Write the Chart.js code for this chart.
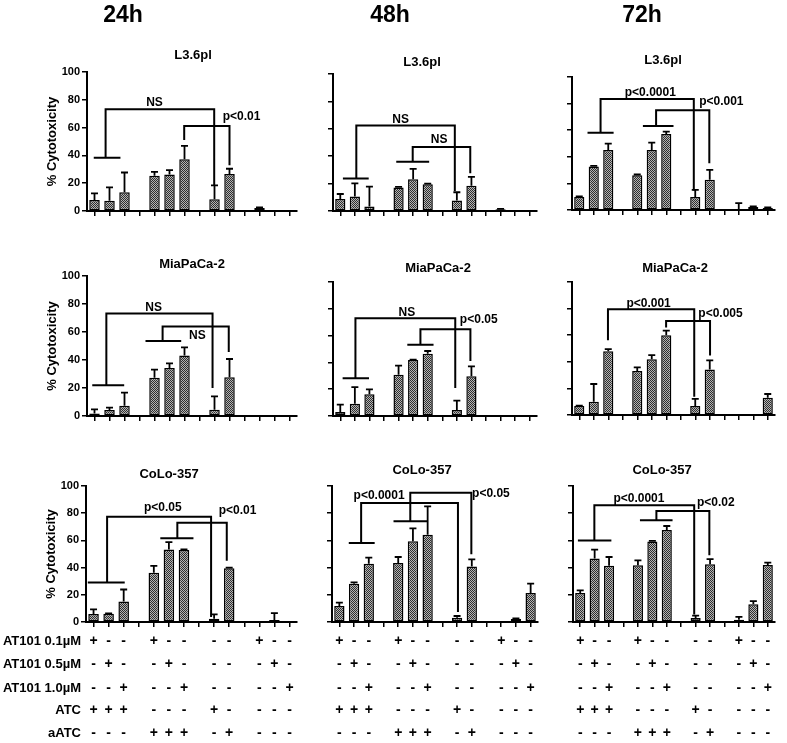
<!DOCTYPE html>
<html><head><meta charset="utf-8">
<script src="https://cdn.jsdelivr.net/npm/chart.js@4/dist/chart.umd.min.js"></script>
<style>
html,body{margin:0;padding:0;background:#fff;}
#wrap{position:relative;width:787px;height:743px;overflow:hidden;background:#fff;}
#wrap canvas{position:absolute;left:0;top:0;}
</style></head><body><div id="wrap"></div>
<script>
// ---------- data ----------
const timepoints = ['24h','48h','72h'];
const cellLines = ['L3.6pl','MiaPaCa-2','CoLo-357'];
const slots = ['0.1+ATC','0.5+ATC','1.0+ATC','g1','0.1+aATC','0.5+aATC','1.0+aATC','g2','ATC','aATC','g3','0.1','0.5','1.0'];
const yTicks = [0,20,40,60,80,100];
const rowLabels = ['AT101 0.1\u00b5M','AT101 0.5\u00b5M','AT101 1.0\u00b5M','ATC','aATC'];
const treatTable = [
  ['+','-','-',null,'+','-','-',null,'-','-',null,'+','-','-'],
  ['-','+','-',null,'-','+','-',null,'-','-',null,'-','+','-'],
  ['-','-','+',null,'-','-','+',null,'-','-',null,'-','-','+'],
  ['+','+','+',null,'-','-','-',null,'+','-',null,'-','-','-'],
  ['-','-','-',null,'+','+','+',null,'-','+',null,'-','-','-']
];

const L36_24_mean = [8, 7.4, 13.4, null, 25.4, 26.3, 37.3, null, 8.4, 26.6, null, 2.2, 0.3, 0.3];
const L36_24_sd   = [4.7, 9.6, 14.3, null, 2.8, 3.1, 9.6, null, 10, 3.8, null, 0.4, 0, 0];
const L36_48_mean = [8.8, 10.5, 3.2, null, 17.1, 23.2, 19.5, null, 7.6, 18.5, null, 1.2, 0.2, 0.2];
const L36_48_sd   = [3.6, 9.7, 14.6, null, 0.5, 7.5, 0.5, null, 6.1, 6.4, null, 0.3, 0, 0];
const L36_72_mean = [9.7, 32.7, 45.1, null, 26.2, 45.1, 57.1, null, 9.7, 22.7, null, 0.7, 2.2, 1.5];
const L36_72_sd   = [0.5, 0.5, 4.8, null, 0.5, 5.5, 1.8, null, 5.5, 7.5, null, 4.5, 0.5, 0.5];

const Mia_24_mean = [1.7, 4.3, 7.4, null, 27.4, 34.3, 43.3, null, 4.5, 27.6, null, 0.3, 0.3, 0.3];
const Mia_24_sd   = [3.1, 1.7, 9.3, null, 5.7, 3.3, 5.7, null, 9.5, 13.1, null, 0, 0, 0];
const Mia_48_mean = [3.0, 9.2, 16.2, null, 30.8, 41.8, 46.5, null, 4.5, 29.6, null, 0.3, 0.3, 0.3];
const Mia_48_sd   = [5.5, 12.4, 3.7, null, 6.8, 0.3, 2, null, 6.9, 7.5, null, 0, 0, 0];
const Mia_72_mean = [6.75, 10, 48, null, 33, 42, 60, null, 6.75, 34.3, null, 0.3, 0.3, 13];
const Mia_72_sd   = [0.3, 13.3, 1.5, null, 2.8, 3, 3.5, null, 5.3, 6.7, null, 0, 0, 2.8];

const Colo_24_mean = [5.9, 6.1, 15.1, null, 36.3, 53.4, 52.9, null, 2.4, 39.5, null, 0.3, 1.5, 0.3];
const Colo_24_sd   = [3.4, 0.3, 8.8, null, 4.9, 5.4, 0.5, null, 3.2, 0.5, null, 0, 5, 0];
const Colo_48_mean = [11.8, 28.2, 42.9, null, 43.4, 59.3, 64.2, null, 3.2, 40.9, null, 0.3, 2.2, 21.3];
const Colo_48_sd   = [2.4, 1, 4.4, null, 4.4, 9.6, 20.8, null, 1.2, 5.1, null, 0, 0.5, 6.9];
const Colo_72_mean = [21.3, 46.6, 41.4, null, 41.7, 59.1, 67.6, null, 2.9, 42.4, null, 1.7, 13, 41.9];
const Colo_72_sd   = [2, 6.6, 6.4, null, 3.6, 0.5, 3, null, 1.8, 3.9, null, 2, 2.4, 1.7];

// significance brackets (x in slot index units, y in % units)
const L36_24_br = [
  {line:[-0.05,1.73], base:38.3, x1:0.74, top:73.2, x2:7.98, end:18.7, text:'NS', tx:4.0, ty:77.8},
  {line:null, base:51, x1:5.98, top:61.2, x2:9.0, end:33, text:'p<0.01', tx:9.8, ty:68}
];
const L36_48_br = [
  {line:[0.18,1.95], base:23.7, x1:1.1, top:62.4, x2:7.86, end:14.6, text:'NS', tx:4.14, ty:66.6},
  {line:[3.84,6.1], base:35.9, x1:4.97, top:46.8, x2:8.92, end:27.6, text:'NS', tx:6.78, ty:52}
];
const L36_72_br = [
  {line:[0.57,2.37], base:58.1, x1:1.47, top:83.5, x2:7.9, end:14.7, text:'p<0.0001', tx:4.9, ty:88},
  {line:[4.39,6.5], base:63.1, x1:5.3, top:75, x2:8.97, end:35.2, text:'p<0.001', tx:9.8, ty:81.8}
];
const Mia_24_br = [
  {line:[-0.15,1.98], base:21.9, x1:0.79, top:73.3, x2:7.87, end:20, text:'NS', tx:3.94, ty:77.4},
  {line:[3.4,5.78], base:53.6, x1:4.54, top:64, x2:8.95, end:45.7, text:'NS', tx:6.86, ty:57.6}
];
const Mia_48_br = [
  {line:[0.16,1.97], base:28.1, x1:1.04, top:72.9, x2:7.89, end:20.9, text:'NS', tx:4.57, ty:76.9},
  {line:[4.6,6.4], base:53.2, x1:5.5, top:64.7, x2:8.93, end:41, text:'p<0.05', tx:9.5, ty:72.1}
];
const Mia_72_br = [
  {line:null, base:56.25, x1:1.98, top:79.5, x2:7.93, end:13.75, text:'p<0.001', tx:4.78, ty:83.75},
  {line:null, base:65.75, x1:5.99, top:70.75, x2:9.02, end:44.75, text:'p<0.005', tx:9.74, ty:76.25}
];
const Colo_24_br = [
  {line:[-0.38,2.07], base:29, x1:0.9, top:77.3, x2:7.8, end:3.7, text:'p<0.05', tx:4.6, ty:83.9},
  {line:[4.43,6.63], base:61.5, x1:5.56, top:72.9, x2:8.84, end:45.1, text:'p<0.01', tx:9.56, ty:81.5}
];
const Colo_48_br = [
  {line:[0.64,2.4], base:58.1, x1:1.48, top:87.5, x2:8.06, end:7.4, text:'p<0.0001', tx:2.7, ty:93.1},
  {line:[3.68,5.96], base:74, x1:4.82, top:95.1, x2:8.97, end:49.8, text:'p<0.05', tx:10.3, ty:94.4}
];
const Colo_72_br = [
  {line:[-0.16,2.16], base:60, x1:0.98, top:85.8, x2:7.9, end:5.6, text:'p<0.0001', tx:4.07, ty:90.4},
  {line:[4.14,6.4], base:74.8, x1:5.28, top:81.6, x2:8.95, end:49, text:'p<0.02', tx:9.4, ty:88}
];

// ---------- layout ----------
const W = 787, H = 743;
const FONT = "'Liberation Sans', Arial, Helvetica, sans-serif";
const headerX = [123, 390, 642];
const tableRowsY = [641, 664, 688, 710, 733];
const panels = [
  {row:0,col:0,mean:L36_24_mean,sd:L36_24_sd,br:L36_24_br,rect:[87,72,297,211],tp:[193,55]},
  {row:0,col:1,mean:L36_48_mean,sd:L36_48_sd,br:L36_48_br,rect:[333,74,537,211],tp:[422,62]},
  {row:0,col:2,mean:L36_72_mean,sd:L36_72_sd,br:L36_72_br,rect:[572,77,775,210],tp:[663,60]},
  {row:1,col:0,mean:Mia_24_mean,sd:Mia_24_sd,br:Mia_24_br,rect:[87,276,297,416],tp:[192,264]},
  {row:1,col:1,mean:Mia_48_mean,sd:Mia_48_sd,br:Mia_48_br,rect:[333,282,537,416],tp:[438,268]},
  {row:1,col:2,mean:Mia_72_mean,sd:Mia_72_sd,br:Mia_72_br,rect:[572,282,775,415],tp:[675,268]},
  {row:2,col:0,mean:Colo_24_mean,sd:Colo_24_sd,br:Colo_24_br,rect:[86,486,297,622],tp:[169,474]},
  {row:2,col:1,mean:Colo_48_mean,sd:Colo_48_sd,br:Colo_48_br,rect:[332,486,538,622],tp:[422,470]},
  {row:2,col:2,mean:Colo_72_mean,sd:Colo_72_sd,br:Colo_72_br,rect:[573,486,775,622],tp:[662,470]}
];

function makePattern(ctx){
  const t = document.createElement('canvas'); t.width = 2; t.height = 2;
  const g = t.getContext('2d');
  g.fillStyle = '#b4b4b4'; g.fillRect(0,0,2,2);
  g.fillStyle = '#2e2e2e'; g.fillRect(0,0,1,1); g.fillRect(1,1,1,1);
  return ctx.createPattern(t,'repeat');
}

function annotPlugin(p){
  return {
    id:'annot'+p.row+p.col,
    afterDatasetsDraw(chart){
      const ctx = chart.ctx, x = chart.scales.x, y = chart.scales.y;
      ctx.save();
      ctx.strokeStyle = '#000'; ctx.fillStyle = '#000';
      // error bars (upper SD)
      ctx.lineWidth = 1.8;
      p.mean.forEach((m,i)=>{
        if (m == null || !p.sd[i]) return;
        const bx = x.getPixelForValue(i);
        const y0 = y.getPixelForValue(m), y1 = y.getPixelForValue(m + p.sd[i]);
        ctx.beginPath();
        ctx.moveTo(bx, y0); ctx.lineTo(bx, y1);
        ctx.moveTo(bx-3.5, y1); ctx.lineTo(bx+3.5, y1);
        ctx.stroke();
      });
      // brackets
      ctx.lineWidth = 2;
      ctx.font = 'bold 12px ' + FONT;
      ctx.textAlign = 'center'; ctx.textBaseline = 'middle';
      p.br.forEach(b=>{
        ctx.beginPath();
        if (b.line){
          ctx.moveTo(x.getPixelForValue(b.line[0]), y.getPixelForValue(b.base));
          ctx.lineTo(x.getPixelForValue(b.line[1]), y.getPixelForValue(b.base));
        }
        ctx.moveTo(x.getPixelForValue(b.x1), y.getPixelForValue(b.base));
        ctx.lineTo(x.getPixelForValue(b.x1), y.getPixelForValue(b.top));
        ctx.lineTo(x.getPixelForValue(b.x2), y.getPixelForValue(b.top));
        ctx.lineTo(x.getPixelForValue(b.x2), y.getPixelForValue(b.end));
        ctx.stroke();
        ctx.fillText(b.text, x.getPixelForValue(b.tx), y.getPixelForValue(b.ty));
      });
      // panel title
      ctx.font = 'bold 13px ' + FONT;
      ctx.fillText(cellLines[p.row], p.tp[0], p.tp[1]);
      // column header
      if (p.row === 0){
        ctx.font = "bold 23px 'Liberation Sans Narrow', " + FONT;
        ctx.fillText(timepoints[p.col], headerX[p.col], 16);
      }
      // treatment table
      if (p.row === 2){
        ctx.font = 'bold 14px ' + FONT;
        treatTable.forEach((r,ri)=>{
          r.forEach((s,i)=>{ if (s) ctx.fillText(s, x.getPixelForValue(i), tableRowsY[ri]); });
        });
        if (p.col === 0){
          ctx.font = 'bold 13px ' + FONT;
          ctx.textAlign = 'right';
          rowLabels.forEach((l,ri)=> ctx.fillText(l, 81, tableRowsY[ri]));
        }
      }
      ctx.restore();
    }
  };
}

const wrap = document.getElementById('wrap');
panels.forEach(p=>{
  const cv = document.createElement('canvas');
  cv.width = W; cv.height = H;
  wrap.appendChild(cv);
  const ctx = cv.getContext('2d');
  const first = p.col === 0;
  const Wy = first ? 46 : 8, Hx = 8;
  const [l,t,r,b] = p.rect;
  new Chart(ctx, {
    type:'bar',
    data:{ labels: slots, datasets:[{
      data: p.mean,
      backgroundColor: makePattern(ctx),
      borderColor:'#000', borderWidth:1.5, borderSkipped:false,
      barPercentage:0.7, categoryPercentage:1
    }]},
    options:{
      responsive:false, animation:false, devicePixelRatio:1, events:[],
      layout:{ padding:{ left:l-Wy, top:t, right:W-r, bottom:H-b-Hx } },
      plugins:{ legend:{display:false}, tooltip:{enabled:false}, title:{display:false} },
      scales:{
        x:{
          offset:true,
          grid:{ display:true, drawOnChartArea:false, drawTicks:true, tickLength:5, offset:false, color:'#000', lineWidth:1.5 },
          border:{ display:true, color:'#000', width:2 },
          ticks:{ display:false },
          afterFit(s){ s.height = Hx; }
        },
        y:{
          min:0, max:100,
          afterBuildTicks(s){ s.ticks = yTicks.map(v=>({value:v})); },
          grid:{ display:true, drawOnChartArea:false, drawTicks:true, tickLength:5, color:'#000', lineWidth:1.5 },
          border:{ display:true, color:'#000', width:2 },
          ticks:{ display:first, padding:2, color:'#000', font:{ family:FONT, size:11, weight:'bold' } },
          title:{ display:first, text:'% Cytotoxicity', color:'#000', font:{ family:FONT, size:13, weight:'bold' } },
          afterFit(s){ s.width = Wy; }
        }
      }
    },
    plugins:[annotPlugin(p)]
  });
});
</script>
</body></html>
